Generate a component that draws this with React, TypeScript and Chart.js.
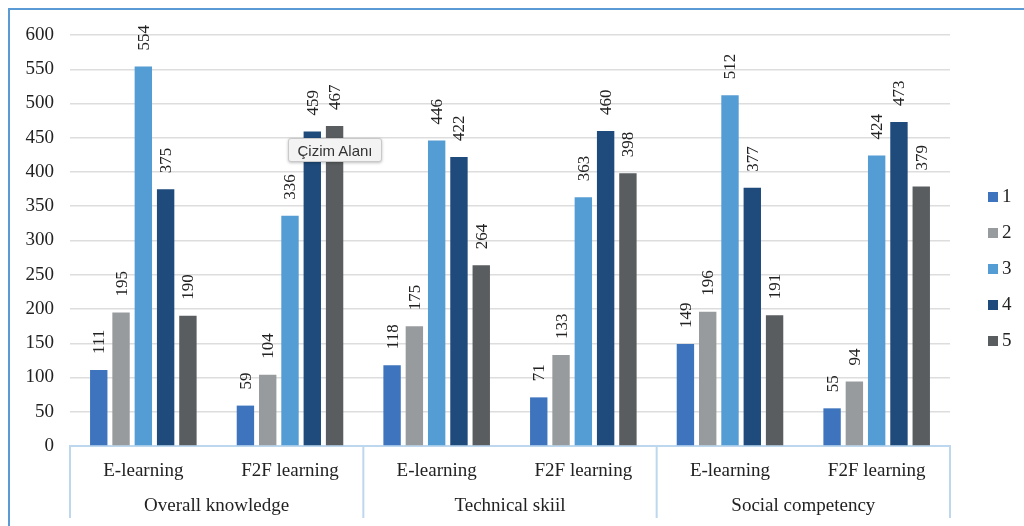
import React, { useEffect, useRef } from "react";
import { Chart, registerables } from "chart.js";

Chart.register(...registerables);

const categories = ["E-learning", "F2F learning", "E-learning", "F2F learning", "E-learning", "F2F learning"];
const groups = ["Overall knowledge", "Technical skiil", "Social competency"];
const seriesNames = ["1", "2", "3", "4", "5"];
const series1 = [111, 59, 118, 71, 149, 55];
const series2 = [195, 104, 175, 133, 196, 94];
const series3 = [554, 336, 446, 363, 512, 424];
const series4 = [375, 459, 422, 460, 377, 473];
const series5 = [190, 467, 264, 398, 191, 379];
const seriesColors = ["#3E74BE", "#989B9D", "#549CD4", "#1E4A7C", "#595D5F"];
const yMin = 0;
const yMax = 600;
const yStep = 50;

const SERIF = '"Liberation Serif", "Times New Roman", serif';
const TEXT = "#222222";

const dataLabelPlugin = {
  id: "dataLabels",
  afterDatasetsDraw(chart: any) {
    const ctx = chart.ctx;
    ctx.save();
    ctx.font = `17px ${SERIF}`;
    ctx.fillStyle = TEXT;
    ctx.textAlign = "left";
    ctx.textBaseline = "middle";
    chart.data.datasets.forEach((ds: any, di: number) => {
      const meta = chart.getDatasetMeta(di);
      meta.data.forEach((el: any, i: number) => {
        ctx.save();
        ctx.translate(el.x, el.y - 16);
        ctx.rotate(-Math.PI / 2);
        ctx.fillText(String(ds.data[i]), 0, 1);
        ctx.restore();
      });
    });
    ctx.restore();
  },
};

const groupAxisPlugin = {
  id: "groupAxis",
  afterDraw(chart: any) {
    const ctx = chart.ctx;
    const x = chart.scales.x;
    const area = chart.chartArea;
    const n = chart.data.labels.length;
    const half = (x.getPixelForValue(1) - x.getPixelForValue(0)) / 2;
    const per = n / groups.length;
    ctx.save();
    ctx.strokeStyle = "#BDD7EE";
    ctx.lineWidth = 2;
    for (let g = 0; g <= groups.length; g++) {
      const idx = Math.min(g * per, n - 1);
      const px = g * per >= n ? x.getPixelForValue(n - 1) + half : x.getPixelForValue(idx) - half;
      ctx.beginPath();
      ctx.moveTo(px, area.bottom);
      ctx.lineTo(px, area.bottom + 72);
      ctx.stroke();
    }
    ctx.font = `19px ${SERIF}`;
    ctx.fillStyle = TEXT;
    ctx.textAlign = "center";
    ctx.textBaseline = "middle";
    groups.forEach((label, g) => {
      const l = x.getPixelForValue(g * per) - half;
      const r = x.getPixelForValue(g * per + per - 1) + half;
      ctx.fillText(label, (l + r) / 2, area.bottom + 60);
    });
    // legend
    ctx.font = `19px ${SERIF}`;
    ctx.textAlign = "left";
    chart.data.datasets.forEach((ds: any, i: number) => {
      const cy = 197 + i * 36;
      ctx.fillStyle = ds.backgroundColor;
      ctx.fillRect(988, cy - 5, 10, 10);
      ctx.fillStyle = TEXT;
      ctx.fillText(ds.label, 1002, cy);
    });
    ctx.restore();
  },
};

export default function App() {
  const ref = useRef<HTMLCanvasElement | null>(null);
  useEffect(() => {
    if (!ref.current) return;
    const data = [series1, series2, series3, series4, series5];
    const chart = new Chart(ref.current, {
      type: "bar",
      data: {
        labels: categories,
        datasets: data.map((d, i) => ({
          label: seriesNames[i],
          data: d,
          backgroundColor: seriesColors[i],
          borderWidth: 0,
          categoryPercentage: 0.76,
          barPercentage: 0.78,
        })),
      },
      options: {
        animation: false,
        responsive: true,
        maintainAspectRatio: false,
        layout: { padding: { top: 35, right: 74, bottom: 0, left: 0 } },
        plugins: {
          legend: { display: false },
          tooltip: { enabled: false },
        },
        scales: {
          x: {
            grid: { display: false },
            border: { display: true, color: "#BDD7EE", width: 2 },
            ticks: { font: { family: SERIF, size: 19 }, color: TEXT, padding: 6, maxRotation: 0 },
            afterFit: (s: any) => {
              s.height = 80;
            },
          },
          y: {
            min: yMin,
            max: yMax,
            ticks: { stepSize: yStep, font: { family: SERIF, size: 19 }, color: TEXT, padding: 16 },
            grid: { color: "#DDDDDD", lineWidth: 1.5, drawTicks: false },
            border: { display: false },
            afterFit: (s: any) => {
              s.width = 70;
            },
          },
        },
      },
      plugins: [dataLabelPlugin, groupAxisPlugin],
    });
    return () => chart.destroy();
  }, []);

  return (
    <div style={{ position: "fixed", left: 0, top: 0, width: 1024, height: 526, background: "#fff", overflow: "hidden" }}>
      <div
        style={{
          position: "absolute",
          left: 8,
          top: 8,
          right: -10,
          bottom: -10,
          borderLeft: "2px solid #5B9BD5",
          borderTop: "2px solid #5B9BD5",
        }}
      />
      <canvas ref={ref} style={{ position: "absolute", left: 0, top: 0, width: 1024, height: 526 }} />
      <div
        style={{
          position: "absolute",
          left: 288,
          top: 138,
          width: 92,
          height: 22,
          background: "#F3F3F3",
          border: "1px solid #C9C9C9",
          borderRadius: 3,
          boxShadow: "0 1px 3px rgba(0,0,0,0.25)",
          font: '15px "Liberation Sans", Arial, sans-serif',
          color: "#333",
          display: "flex",
          alignItems: "center",
          justifyContent: "center",
          whiteSpace: "nowrap",
        }}
      >
        Çizim Alanı
      </div>
    </div>
  );
}
